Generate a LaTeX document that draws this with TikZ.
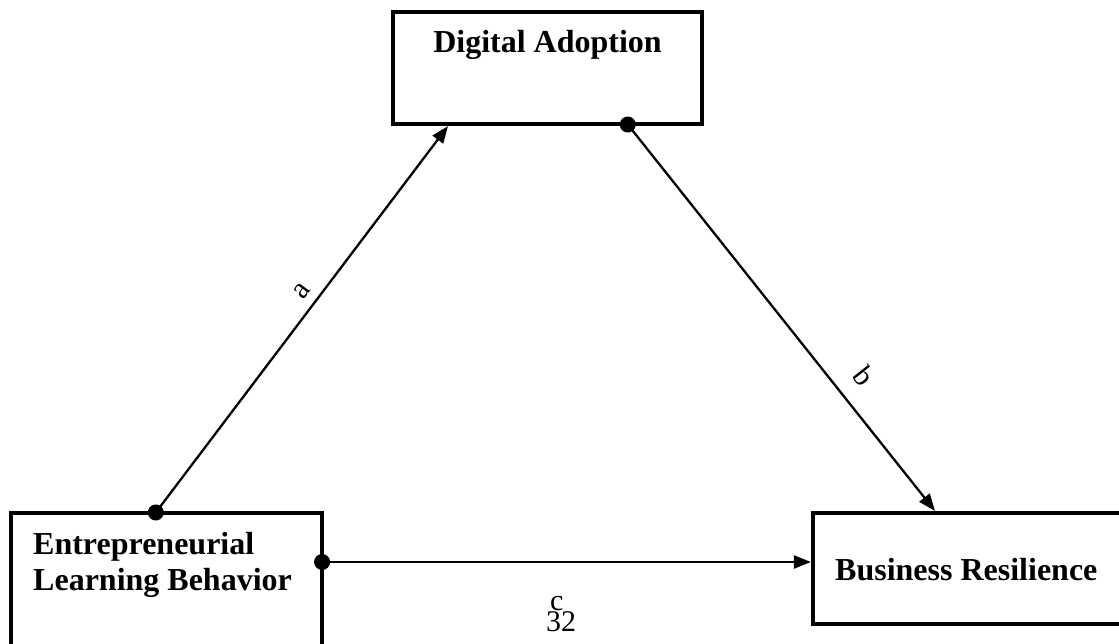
\documentclass[tikz,border=0pt]{standalone}
\usepackage{fontspec}
\setmainfont{Liberation Serif}
\usetikzlibrary{arrows.meta}

\begin{document}
\begin{tikzpicture}[x=1pt,y=1pt,
    box/.style={draw, line width=4.2pt, inner sep=0pt},
    title/.style={font=\bfseries\fontsize{32}{36}\selectfont, inner sep=0pt},
    lbl/.style={font=\fontsize{30}{34}\selectfont, inner sep=0pt},
    conn/.style={line width=2.3pt, {Circle[length=16pt]}-{Triangle[length=17pt,width=13pt]}, shorten <=-10pt}]
    \useasboundingbox (0,0) rectangle (1119,643);
    \node[box, minimum width=309pt, minimum height=112pt] (da) at (547.5,575) {};
    \node[box, minimum width=311pt, minimum height=160pt] (elb) at (166.5,50) {};
    \node[box, minimum width=327pt, minimum height=111pt] (br) at (976.5,74.5) {};
    \node[title, anchor=base] (datext) at (547.5,590) {Digital Adoption};
    \node[title, anchor=base west, align=left] (elbtext) at (33,53) {Entrepreneurial\\Learning Behavior};
    \node[title, anchor=base west] (brtext) at (835,63) {Business Resilience};
    \draw[conn] ([xshift=-9.5pt]elb.north) -- node[lbl, pos=.545, sloped, above=9pt] (la) {a} ([xshift=-99.5pt]da.south);
    \draw[conn] ([xshift=81.5pt]da.south) -- node[lbl, pos=.696, sloped, above=17pt] (lb) {b} ([xshift=-41.5pt]br.north);
    \draw[conn] ([yshift=31pt]elb.east) -- node[lbl, pos=.478, below=33pt] (lc) {c} ([yshift=6.5pt]br.west);
    \node[lbl] (pg) at (561,21) {32};
\end{tikzpicture}
\end{document}
